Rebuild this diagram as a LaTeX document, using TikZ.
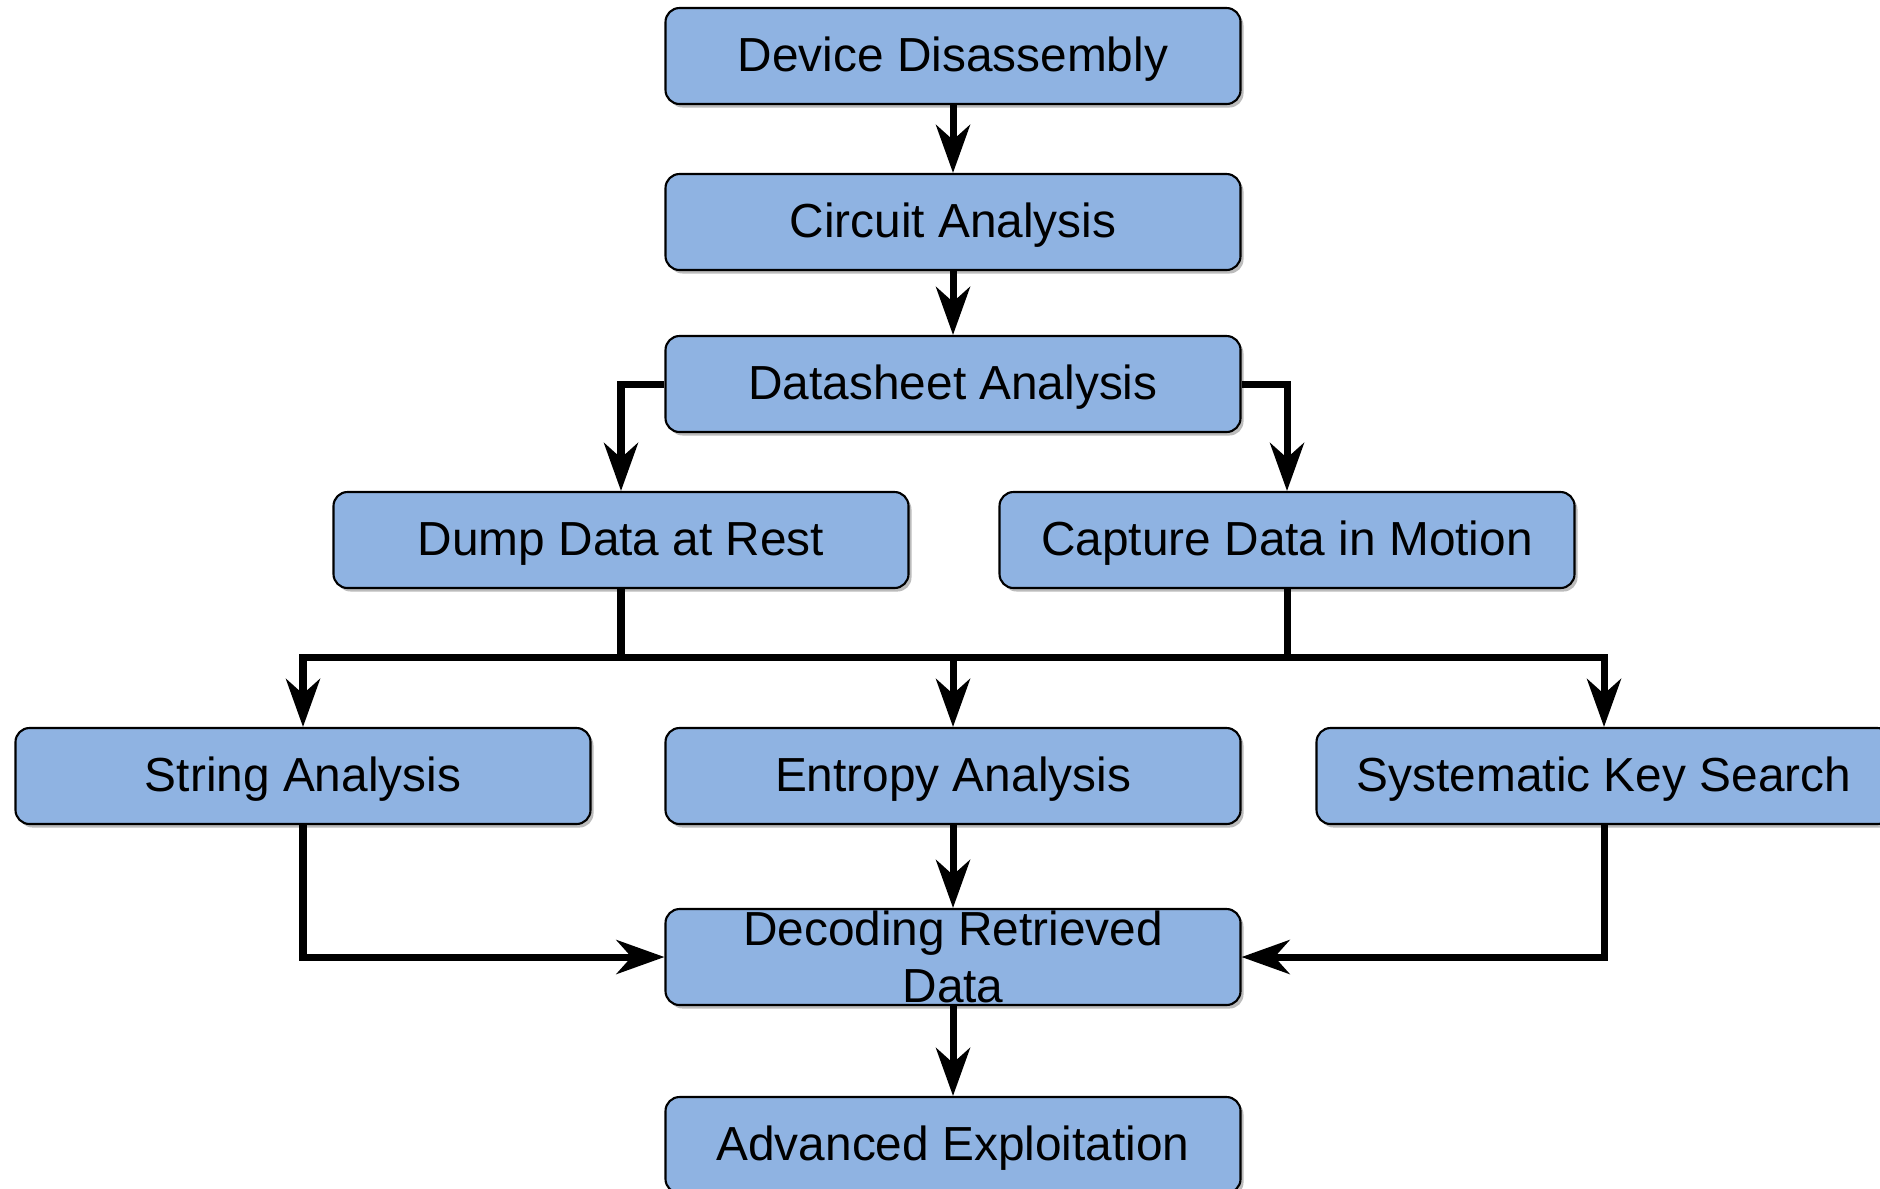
\documentclass[tikz,border=0pt]{standalone}
\usepackage{fontspec}
\setmainfont{Liberation Sans}
\usepackage{tikz}
\usetikzlibrary{arrows.meta,positioning,shadows}
\definecolor{flowInk}{HTML}{000000}
\definecolor{flowBlueFill}{HTML}{8FB3E2}
\definecolor{flowShadow}{HTML}{6A6A6A}

\begin{document}
\begin{tikzpicture}[
  box/.style={draw=flowInk,line width=0.6pt,rounded corners=0.14cm,fill=flowBlueFill,
    align=center,minimum width=5.75cm,minimum height=0.96cm,inner sep=0pt,
    text height=10pt,text depth=1pt,
    font=\fontsize{13.6}{16.2}\selectfont,
    drop shadow={shadow xshift=0.03cm,shadow yshift=-0.035cm,fill=flowShadow,opacity=0.45}},
  twoline/.style={text height={},text depth={}},
  line/.style={line width=2pt,draw=flowInk},
  arrow/.style={line,-{Stealth[length=4.8mm,width=3.4mm,inset=1.5mm]}}]
\useasboundingbox (0,0) rectangle (18.8,-11.88);
\node[box] (dev) at (9.53,-0.56) {Device Disassembly};
\node[box] (circ) at (9.53,-2.22) {Circuit Analysis};
\node[box] (dsheet) at (9.53,-3.84) {Datasheet Analysis};
\node[box] (dump) at (6.21,-5.40) {Dump Data at Rest};
\node[box] (capt) at (12.87,-5.40) {Capture Data in Motion};
\node[box] (str) at (3.03,-7.76) {String Analysis};
\node[box] (ent) at (9.53,-7.76) {Entropy Analysis};
\node[box] (sks) at (16.04,-7.76) {Systematic Key Search};
\node[box,twoline] (dec) at (9.53,-9.57) {Decoding Retrieved\\Data};
\node[box] (adv) at (9.53,-11.45) {Advanced Exploitation};
\coordinate (bus) at (9.53,-6.57);
\draw[arrow] (dev) -- (circ);
\draw[arrow] (circ) -- (dsheet);
\draw[arrow] (dsheet.west) -| (dump.north);
\draw[arrow] (dsheet.east) -| (capt.north);
% branches join on one bus
\draw[line] (dump.south) |- (bus);
\draw[line] (capt.south) |- (bus);
\draw[arrow] (bus) -| (str.north);
\draw[arrow] (bus) -- (ent.north);
\draw[arrow] (bus) -| (sks.north);
\draw[arrow] (str.south) |- (dec.west);
\draw[arrow] (ent) -- (dec);
\draw[arrow] (sks.south) |- (dec.east);
\draw[arrow] (dec) -- (adv);
\end{tikzpicture}
\end{document}
